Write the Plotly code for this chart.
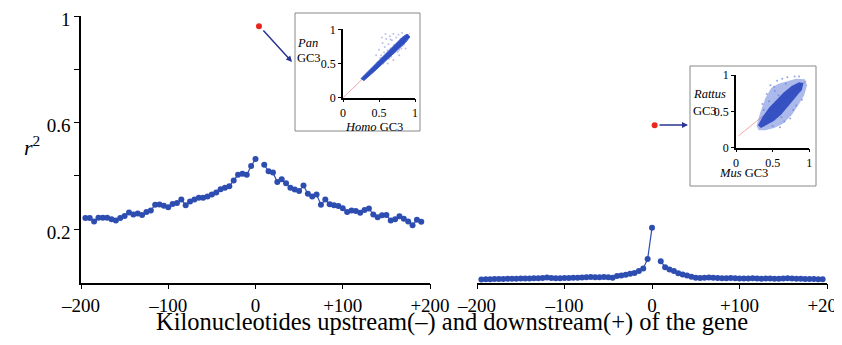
import plotly.graph_objects as go

# page body has an 8px margin; figure is sized/placed so that it lands on the 842x345 frame
OX, OY = 8, 8
W, H = 834, 337
FONT = "Liberation Serif"
BLUE = "#2E4DB0"

# ---- data: Pan/Homo (left) r^2 vs position (kb) ----
up_x = list(range(-195, 1, 5))
homo_up = [0.242, 0.242, 0.229, 0.243, 0.243, 0.243, 0.237, 0.233, 0.242, 0.250,
           0.263, 0.255, 0.259, 0.253, 0.265, 0.270, 0.292, 0.293, 0.288, 0.282,
           0.295, 0.298, 0.311, 0.290, 0.304, 0.311, 0.318, 0.318, 0.323, 0.330,
           0.338, 0.350, 0.356, 0.361, 0.383, 0.404, 0.408, 0.404, 0.437, 0.463]
homo_dn_x = list(range(10, 191, 5))
homo_dn = [0.442, 0.417, 0.413, 0.377, 0.387, 0.372, 0.356, 0.349, 0.343, 0.364,
           0.333, 0.323, 0.330, 0.292, 0.311, 0.294, 0.290, 0.287, 0.279, 0.265,
           0.270, 0.268, 0.262, 0.272, 0.278, 0.255, 0.245, 0.252, 0.253, 0.233,
           0.237, 0.249, 0.239, 0.229, 0.215, 0.235, 0.228]

# ---- data: Rattus/Mus (right) ----
mus_up = [0.011, 0.012, 0.012, 0.013, 0.013, 0.013, 0.014, 0.014, 0.014, 0.015,
          0.015, 0.015, 0.016, 0.016, 0.017, 0.019, 0.017, 0.016, 0.016, 0.017,
          0.017, 0.018, 0.018, 0.019, 0.020, 0.021, 0.020, 0.020, 0.021, 0.020,
          0.018, 0.024, 0.026, 0.029, 0.033, 0.036, 0.043, 0.053, 0.088, 0.205]
mus_dn_x = list(range(10, 196, 5))
mus_dn = [0.080, 0.057, 0.049, 0.043, 0.035, 0.030, 0.026, 0.022, 0.018, 0.017,
          0.018, 0.019, 0.018, 0.017, 0.016, 0.016, 0.017, 0.016, 0.015, 0.015,
          0.015, 0.016, 0.015, 0.014, 0.015, 0.015, 0.014, 0.014, 0.015, 0.016,
          0.015, 0.014, 0.014, 0.013, 0.013, 0.013, 0.012, 0.012]

# gene-body r^2 (red dots)
gene_left = (4, 0.962)
gene_right = (3, 0.59)

x_ticks = [-200, -100, 0, 100, 200]
x_tick_text = ["\u2013200", "\u2013100", "0", "+100", "+200"]
y_ticks = [0.2, 0.4, 0.6, 0.8, 1.0]
y_tick_text = ["0.2", "", "0.6", "", "1"]
inset_ticks = [0, 0.5, 1]
inset_tick_text = ["0", "0.5", "1"]

# inset left: Homo vs Pan GC3
pan_core_x = [0.25, 0.40, 0.55, 0.70, 0.82, 0.89, 0.93, 0.87, 0.73, 0.59, 0.43, 0.29]
pan_core_y = [0.28, 0.44, 0.60, 0.76, 0.88, 0.93, 0.89, 0.81, 0.67, 0.53, 0.38, 0.25]
pan_sc_x = [0.46, 0.50, 0.52, 0.55, 0.57, 0.58, 0.60, 0.62, 0.63, 0.65, 0.66, 0.68,
            0.70, 0.71, 0.72, 0.74, 0.75, 0.77, 0.78, 0.80, 0.82, 0.84, 0.86, 0.88,
            0.48, 0.53, 0.56, 0.61, 0.64, 0.67, 0.69, 0.73, 0.76, 0.79, 0.81, 0.83,
            0.85, 0.59, 0.54, 0.70, 0.78, 0.87, 0.62, 0.66]
pan_sc_y = [0.62, 0.70, 0.58, 0.80, 0.66, 0.74, 0.86, 0.69, 0.78, 0.90, 0.72, 0.84,
            0.93, 0.77, 0.66, 0.88, 0.79, 0.92, 0.70, 0.86, 0.95, 0.80, 0.90, 0.84,
            0.52, 0.62, 0.50, 0.60, 0.57, 0.60, 0.64, 0.68, 0.67, 0.74, 0.72, 0.76,
            0.78, 0.93, 0.88, 0.55, 0.62, 0.72, 0.50, 0.85]
pan_fit_x = [0.0, 0.93]
pan_fit_y = [0.0, 0.94]

# inset right: Mus vs Rattus GC3
rat_halo_x = [0.28, 0.33, 0.40, 0.48, 0.58, 0.70, 0.82, 0.94, 0.97, 0.93, 0.86, 0.76, 0.64, 0.52, 0.40, 0.31]
rat_halo_y = [0.30, 0.48, 0.68, 0.82, 0.88, 0.92, 0.95, 0.94, 0.86, 0.72, 0.60, 0.45, 0.33, 0.27, 0.24, 0.24]
rat_core_x = [0.30, 0.36, 0.45, 0.55, 0.65, 0.76, 0.86, 0.92, 0.90, 0.82, 0.72, 0.62, 0.52, 0.42, 0.34]
rat_core_y = [0.31, 0.42, 0.55, 0.66, 0.76, 0.85, 0.90, 0.89, 0.80, 0.70, 0.58, 0.46, 0.37, 0.31, 0.27]
rat_sc_x = [0.36, 0.38, 0.42, 0.44, 0.47, 0.50, 0.53, 0.56, 0.60, 0.63, 0.66, 0.70,
            0.74, 0.78, 0.82, 0.86, 0.90, 0.45, 0.52, 0.58, 0.68, 0.80, 0.88, 0.62]
rat_sc_y = [0.60, 0.52, 0.74, 0.40, 0.86, 0.30, 0.78, 0.92, 0.28, 0.95, 0.36, 0.97,
            0.40, 0.52, 0.58, 0.98, 0.66, 0.64, 0.84, 0.72, 0.88, 0.98, 0.78, 0.42]
rat_fit_x = [0.03, 0.96]
rat_fit_y = [0.16, 0.92]


def px(x):
    return (x - OX) / W


def py(y):
    return (H - (y - OY)) / H


fig = go.Figure()

mk = dict(color=BLUE, size=6)
ln = dict(color=BLUE, width=1.2)
for xs, ys, xa in [(up_x, homo_up, "x"), (homo_dn_x, homo_dn, "x"),
                   (up_x, mus_up, "x2"), (mus_dn_x, mus_dn, "x2")]:
    fig.add_trace(go.Scatter(x=xs, y=ys, mode="lines+markers", marker=mk, line=ln,
                             xaxis=xa, yaxis="y", cliponaxis=False, showlegend=False))

fig.add_trace(go.Scatter(x=[gene_left[0]], y=[gene_left[1]], mode="markers",
                         marker=dict(color="#E8261F", size=6), xaxis="x", yaxis="y",
                         cliponaxis=False, showlegend=False))
fig.add_trace(go.Scatter(x=[gene_right[0]], y=[gene_right[1]], mode="markers",
                         marker=dict(color="#E8261F", size=6), xaxis="x2", yaxis="y",
                         cliponaxis=False, showlegend=False))

# insets
fig.add_trace(go.Scatter(x=pan_fit_x, y=pan_fit_y, mode="lines",
                         line=dict(color="#F4A8A8", width=1), xaxis="x3", yaxis="y3", showlegend=False))
fig.add_trace(go.Scatter(x=pan_sc_x, y=pan_sc_y, mode="markers",
                         marker=dict(color="#8A9AD8", size=2, opacity=0.6), xaxis="x3", yaxis="y3", showlegend=False))
fig.add_trace(go.Scatter(x=pan_core_x + [pan_core_x[0]], y=pan_core_y + [pan_core_y[0]], mode="lines",
                         fill="toself", fillcolor="#2F4FC0", line=dict(color="#3B5BCB", width=1),
                         xaxis="x3", yaxis="y3", showlegend=False))

fig.add_trace(go.Scatter(x=rat_fit_x, y=rat_fit_y, mode="lines",
                         line=dict(color="#F4A8A8", width=1), xaxis="x4", yaxis="y4", showlegend=False))
fig.add_trace(go.Scatter(x=rat_halo_x + [rat_halo_x[0]], y=rat_halo_y + [rat_halo_y[0]], mode="lines",
                         fill="toself", fillcolor="rgba(70,100,210,0.45)", line=dict(width=0),
                         xaxis="x4", yaxis="y4", showlegend=False))
fig.add_trace(go.Scatter(x=rat_sc_x, y=rat_sc_y, mode="markers",
                         marker=dict(color="#6A80D8", size=2, opacity=0.7), xaxis="x4", yaxis="y4", showlegend=False))
fig.add_trace(go.Scatter(x=rat_core_x + [rat_core_x[0]], y=rat_core_y + [rat_core_y[0]], mode="lines",
                         fill="toself", fillcolor="rgba(40,70,190,0.9)", line=dict(width=0),
                         xaxis="x4", yaxis="y4", showlegend=False))

tickfont = dict(family=FONT, size=19, color="black")
xcommon = dict(range=[-200, 200], tickvals=x_ticks, ticktext=x_tick_text, showline=True,
               linecolor="black", linewidth=1.5, ticks="outside", ticklen=5, tickcolor="black",
               tickwidth=1, showgrid=False, zeroline=False, tickfont=tickfont, anchor="y",
               automargin=False, ticklabeloverflow="allow")
ydom = [py(282.5), py(16)]
inset_font = dict(family=FONT, size=12, color="black")
icommon = dict(range=[0, 1], tickvals=inset_ticks, ticktext=inset_tick_text, showline=True,
               linecolor="black", linewidth=1.5, ticks="outside", ticklen=3, tickcolor="black",
               showgrid=False, zeroline=False, tickfont=inset_font, ticklabelstandoff=0,
               automargin=False, ticklabeloverflow="allow")
label_font = dict(family=FONT, size=12.5, color="black")

fig.update_layout(
    width=W, height=H, margin=dict(l=0, r=0, t=0, b=0, autoexpand=False),
    paper_bgcolor="white", plot_bgcolor="rgba(0,0,0,0)",
    xaxis=dict(domain=[px(81), px(430)], **xcommon),
    xaxis2=dict(domain=[px(477), px(827)], **xcommon),
    yaxis=dict(domain=ydom, range=[0, 1], tickvals=y_ticks, ticktext=y_tick_text,
               showline=True, linecolor="black", linewidth=1.5, ticks="outside", ticklen=5,
               tickcolor="black", showgrid=False, zeroline=False, automargin=False,
               ticklabeloverflow="allow", ticklabelshift=3,
               tickfont=dict(family=FONT, size=19, color="black"), anchor="x"),
    xaxis3=dict(domain=[px(343), px(415)], anchor="y3", **icommon),
    yaxis3=dict(domain=[py(97.7), py(29.3)], anchor="x3", **icommon),
    xaxis4=dict(domain=[px(736), px(809.3)], anchor="y4", **icommon),
    yaxis4=dict(domain=[py(147.7), py(75)], anchor="x4", **icommon),
    shapes=[
        dict(type="rect", xref="paper", yref="paper", x0=px(295), x1=px(420), y0=py(131), y1=py(13),
             line=dict(color="#888888", width=1)),
        dict(type="rect", xref="paper", yref="paper", x0=px(690), x1=px(816), y0=py(186), y1=py(66),
             line=dict(color="#888888", width=1)),
    ],
    annotations=[
        dict(text="Kilonucleotides upstream(\u2013) and downstream(+) of the gene", xref="paper", yref="paper",
             x=px(452), y=py(338), showarrow=False, font=dict(family=FONT, size=24.5, color="black")),
        dict(text="<i>r</i><sup>2</sup>", xref="paper", yref="paper", x=px(22), y=py(146),
             showarrow=False, font=dict(family=FONT, size=22, color="black")),
        dict(text="<i>Pan</i>", xref="paper", yref="paper", x=px(295), y=py(34), xanchor="left",
             showarrow=False, font=label_font),
        dict(text="GC3", xref="paper", yref="paper", x=px(295), y=py(49), xanchor="left",
             showarrow=False, font=label_font),
        dict(text="<i>Homo</i> GC3", xref="paper", yref="paper", x=px(374), y=py(118),
             showarrow=False, font=label_font),
        dict(text="<i>Rattus</i>", xref="paper", yref="paper", x=px(691), y=py(85), xanchor="left",
             showarrow=False, font=label_font),
        dict(text="GC3", xref="paper", yref="paper", x=px(691), y=py(102), xanchor="left",
             showarrow=False, font=label_font),
        dict(text="<i>Mus</i> GC3", xref="paper", yref="paper", x=px(770), y=py(173),
             showarrow=False, font=label_font),
        dict(x=px(292), y=py(62), xref="paper", yref="paper", ax=-30, ay=-33, showarrow=True,
             arrowhead=2, arrowsize=0.8, arrowwidth=1.5, arrowcolor="#2A3590", text=""),
        dict(x=px(688), y=py(125), xref="paper", yref="paper", ax=-30, ay=0, showarrow=True,
             arrowhead=2, arrowsize=0.8, arrowwidth=1.5, arrowcolor="#2A3590", text=""),
    ],
)

fig.write_html("out.html")
